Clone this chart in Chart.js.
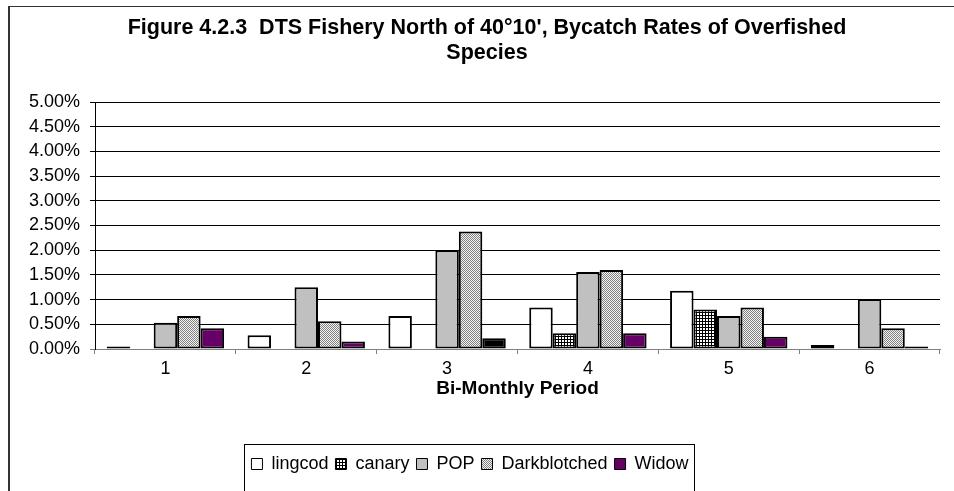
<!DOCTYPE html>
<html><head><meta charset="utf-8">
<script src="https://cdn.jsdelivr.net/npm/chart.js@4/dist/chart.umd.min.js"></script>
<style>html,body{margin:0;padding:0;background:#fff}canvas{display:block}</style>
</head><body>
<canvas id="c" width="954" height="491"></canvas>
<script>
const periods = ['1', '2', '3', '4', '5', '6'];
const seriesNames = ['lingcod', 'canary', 'POP', 'Darkblotched', 'Widow'];
const lingcod = [0.05, 0.28, 0.67, 0.84, 1.18, 0.08];
const canary = [0, 0, 0, 0.32, 0.80, 0];
const pop = [0.53, 1.25, 2.00, 1.56, 0.67, 1.01];
const darkblotched = [0.67, 0.56, 2.38, 1.60, 0.84, 0.42];
const widow = [0.42, 0.15, 0.22, 0.32, 0.25, 0.05];
const yTickValues = [0, 0.5, 1, 1.5, 2, 2.5, 3, 3.5, 4, 4.5, 5];
const titleLines = ["Figure 4.2.3  DTS Fishery North of 40\u00B010', Bycatch Rates of Overfished", 'Species'];
const xTitle = 'Bi-Monthly Period';

const canvas = document.getElementById('c');
const ctx = canvas.getContext('2d');

function makeGrid() {
  const c = document.createElement('canvas'); c.width = 3; c.height = 3;
  const g = c.getContext('2d');
  g.fillStyle = '#fff'; g.fillRect(0, 0, 3, 3);
  g.fillStyle = '#000'; g.fillRect(0, 0, 3, 1); g.fillRect(0, 0, 1, 3);
  return ctx.createPattern(c, 'repeat');
}
function makeDots() {
  const c = document.createElement('canvas'); c.width = 2; c.height = 2;
  const g = c.getContext('2d');
  g.fillStyle = '#f4f4f4'; g.fillRect(0, 0, 2, 2);
  g.fillStyle = '#808080'; g.fillRect(0, 0, 1, 1); g.fillRect(1, 1, 1, 1);
  return ctx.createPattern(c, 'repeat');
}

Chart.defaults.font.family = "'Liberation Sans', Arial, sans-serif";
Chart.defaults.color = '#000';

const framePlugin = {
  id: 'frame',
  beforeDraw(chart) {
    const c = chart.ctx;
    c.save();
    c.fillStyle = '#fff'; c.fillRect(0, 0, chart.width, chart.height);
    c.fillStyle = '#333'; c.fillRect(8, 6, 2, chart.height);
    c.fillRect(8, 6, chart.width, 1);
    c.restore();
  },
  afterLayout(chart) {
    chart.titleBlock.left += 17; chart.titleBlock.right += 17;
  },
  afterDraw(chart) {
    const hb = chart.legend.legendHitBoxes;
    if (!hb || !hb.length) return;
    let l = Infinity, r = -Infinity;
    hb.forEach(h => { l = Math.min(l, h.left); r = Math.max(r, h.left + h.width); });
    const c = chart.ctx;
    c.save(); c.strokeStyle = '#000'; c.lineWidth = 1;
    c.strokeRect(Math.round(l - 7) + 0.5, 444.5, Math.round(r - l + 13), 60);
    c.restore();
  }
};

new Chart(ctx, {
  type: 'bar',
  plugins: [framePlugin],
  data: {
    labels: periods,
    datasets: [
      { label: seriesNames[0], data: lingcod, backgroundColor: '#ffffff' },
      { label: seriesNames[1], data: canary, backgroundColor: makeGrid() },
      { label: seriesNames[2], data: pop, backgroundColor: '#c0c0c0' },
      { label: seriesNames[3], data: darkblotched, backgroundColor: makeDots() },
      { label: seriesNames[4], data: widow, backgroundColor: ['#660066', '#660066', '#000000', '#660066', '#660066', '#660066'] }
    ]
  },
  options: {
    responsive: false,
    animation: false,
    devicePixelRatio: 1,
    layout: { padding: { left: 0, right: 14, top: 0, bottom: 8 } },
    datasets: { bar: { categoryPercentage: 5 / 6, barPercentage: 1, borderColor: '#000', borderWidth: 2, borderSkipped: false } },
    scales: {
      x: {
        grid: { offset: true, drawOnChartArea: false, drawTicks: true, tickLength: 5, color: '#808080' },
        border: { color: '#808080', width: 1 },
        ticks: { font: { size: 18 }, padding: 4, color: '#000' },
        title: { display: true, text: xTitle, font: { size: 19, weight: 'bold' }, padding: { top: 0, bottom: 48 }, color: '#000' },
        afterFit(s) { s.height = 99; }
      },
      y: {
        min: 0, max: 5,
        afterBuildTicks(s) { s.ticks = yTickValues.map(v => ({ value: v })); },
        ticks: { font: { size: 18 }, padding: 10, color: '#000', callback: v => Number(v).toFixed(2) + '%' },
        grid: { color: c => (c.tick && c.tick.value === 0) ? '#808080' : '#000', tickLength: 5, lineWidth: 1 },
        border: { color: '#000', width: 1 },
        afterFit(s) { s.width = 95; }
      }
    },
    plugins: {
      title: { display: true, text: titleLines, font: { size: 21.5, weight: 'bold', lineHeight: '25px' }, padding: { top: 16, bottom: 36 }, color: '#000' },
      legend: {
        position: 'bottom',
        labels: {
          font: { size: 18 }, boxWidth: 11, boxHeight: 11, padding: 7, color: '#000',
          generateLabels(chart) {
            const items = Chart.defaults.plugins.legend.labels.generateLabels(chart);
            items.forEach(i => { i.lineWidth = 1; i.strokeStyle = '#000'; });
            return items;
          }
        }
      },
      tooltip: { enabled: false }
    }
  }
});
</script>
</body></html>
